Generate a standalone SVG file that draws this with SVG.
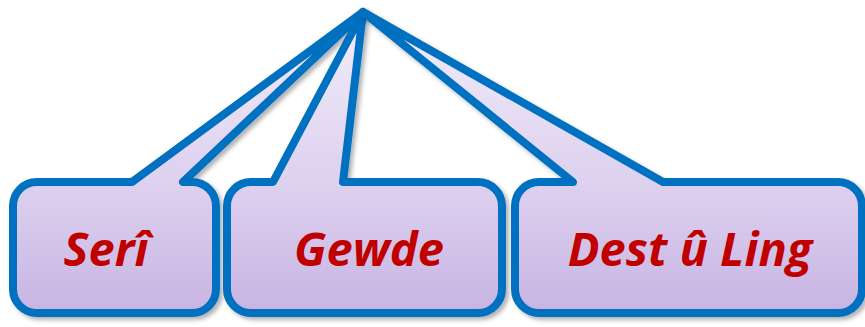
<svg xmlns="http://www.w3.org/2000/svg" width="865" height="327" viewBox="0 0 865 327">
<defs>
<linearGradient id="fillGrad" x1="0" y1="0" x2="0" y2="1">
<stop offset="0" stop-color="#F2EDF9"/>
<stop offset="0.57" stop-color="#DDD1EF"/>
<stop offset="1" stop-color="#C8B4E3"/>
</linearGradient>
<filter id="shadow" x="-10%" y="-10%" width="130%" height="130%">
<feDropShadow dx="3" dy="3" stdDeviation="2" flood-color="#000" flood-opacity="0.3"/>
</filter>
<style>
.callout{fill:url(#fillGrad);stroke:#0070C0;stroke-width:8;stroke-linejoin:round;stroke-linecap:round;filter:url(#shadow)}
.label{font-family:"Open Sans","Noto Sans","Liberation Sans",sans-serif;font-weight:bold;font-style:italic;font-size:47px;fill:#C00000;text-anchor:middle}
</style>
</defs>
<rect width="865" height="327" fill="#FFFFFF"/>
<g id="connectors"></g>
<g id="node-seri">
<path class="callout" d="M37,182 L132,182 L363,12 L183,182 L192,182 A24,24 0 0 1 216,206 L216,289 A24,24 0 0 1 192,313 L37,313 A24,24 0 0 1 13,289 L13,206 A24,24 0 0 1 37,182 Z"/>
<text class="label" x="106" y="266">Serî</text>
</g>
<g id="node-gewde">
<path class="callout" d="M251,182 L273,182 L363,12 L343,182 L478,182 A24,24 0 0 1 502,206 L502,289 A24,24 0 0 1 478,313 L251,313 A24,24 0 0 1 227,289 L227,206 A24,24 0 0 1 251,182 Z"/>
<text class="label" x="369" y="266">Gewde</text>
</g>
<g id="node-dest">
<path class="callout" d="M539,182 L573,182 L363,12 L663,182 L838,182 A24,24 0 0 1 862,206 L862,289 A24,24 0 0 1 838,313 L539,313 A24,24 0 0 1 515,289 L515,206 A24,24 0 0 1 539,182 Z"/>
<text class="label" x="690" y="266">Dest û Ling</text>
</g>
</svg>
